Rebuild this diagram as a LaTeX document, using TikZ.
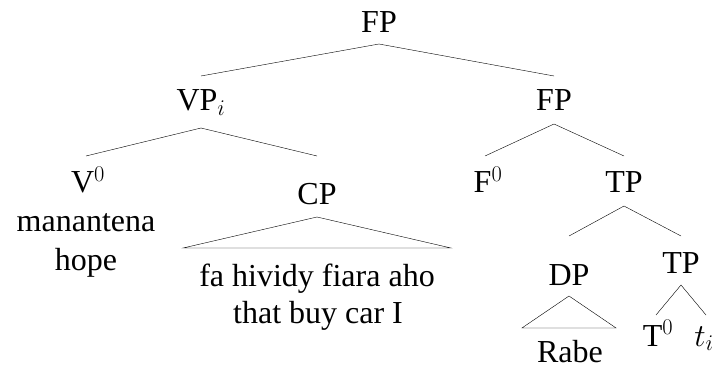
\RequirePackage{fix-cm}
\documentclass[tikz,border=0pt]{standalone}
\usepackage{fontspec}
\setmainfont{Liberation Serif}
\usetikzlibrary{positioning}
\tikzset{
    x=1pt,y=-1pt,line width=1.1pt,
    cat/.style ={anchor=base, inner sep=0pt},
    roof/.style={line join=miter}
}

\begin{document}
\begin{tikzpicture}[font=\fontsize{32}{38}\selectfont]
    \useasboundingbox (0,0) rectangle (717,371);

    % category nodes placed at their baselines
    \node[cat] (fp)  at (379,33)  {FP};
    \node[cat] (vp)  at (201,111) {VP$_i$};
    \node[cat] (fpb) at (554,111) {FP};
    \node[cat] (v0)  at (88,193)  {V$^0$};
    \node[cat] (cp)  at (317,205) {CP};
    \node[cat] (f0)  at (488,193) {F$^0$};
    \node[cat] (tp)  at (624,193) {TP};
    \node[cat] (dp)  at (569,285) {DP};
    \node[cat] (tpb) at (681,273) {TP};
    \node[cat] (t0)  at (658,346) {T$^0$};
    \node[cat] (ti)  at (704,346) {$t_i$};

    % words and glosses
    \node[cat] (man)  at (86,232)  {manantena};
    \node[cat] (hope) at (86,270)  {hope};
    \node[cat] (fa)   at (317,287) {fa hividy fiara aho};
    \node[cat] (that) at (318,323) {that buy car I};
    \node[cat] (rabe) at (570,362) {Rabe};

    % branches
    \draw ([yshift=-11pt]fp.base) -- ([yshift=35pt]vp.base);
    \draw ([yshift=-11pt]fp.base) -- ([yshift=35pt]fpb.base);
    \draw ([yshift=-17pt]vp.base) -- ([xshift=-2pt,yshift=37pt]v0.base);
    \draw ([yshift=-17pt]vp.base) -- ([yshift=49pt]cp.base);
    \draw ([yshift=-13pt]fpb.base) -- ([xshift=-3pt,yshift=37pt]f0.base);
    \draw ([yshift=-13pt]fpb.base) -- ([yshift=37pt]tp.base);
    \draw ([yshift=-13pt]tp.base) -- ([yshift=49pt]dp.base);
    \draw ([yshift=-13pt]tp.base) -- ([yshift=37pt]tpb.base);
    \draw ([yshift=-12pt]tpb.base) -- ([xshift=-2pt,yshift=31pt]t0.base);
    \draw ([yshift=-12pt]tpb.base) -- ([xshift=2pt,yshift=31pt]ti.base);

    % roofs
    \draw[roof] ([yshift=-12pt]cp.base) -- ([shift={(-16pt,39pt)}]fa.base west)
        -- ([shift={(16pt,39pt)}]fa.base east) -- cycle;
    \draw[roof] ([yshift=-11pt]dp.base) -- ([shift={(-15pt,34pt)}]rabe.base west)
        -- ([shift={(13pt,34pt)}]rabe.base east) -- cycle;
\end{tikzpicture}
\end{document}
